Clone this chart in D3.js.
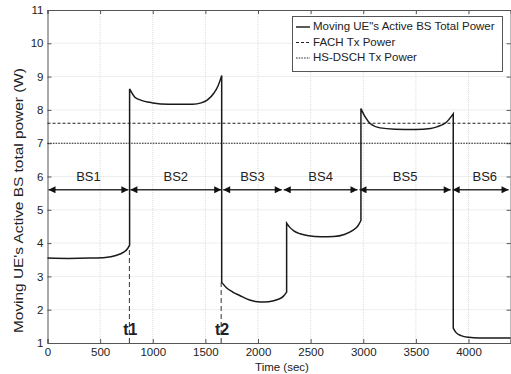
<!DOCTYPE html>
<html>
<head>
<meta charset="utf-8">
<script src="https://cdn.jsdelivr.net/npm/d3@7"></script>
<style>
  body { margin: 0; background: #fff; }
  text { font-family: "Liberation Sans", Arial, sans-serif; fill: #222; }
</style>
</head>
<body>
<script>
// power of the active BS seen by the moving UE, one array per serving BS
var bs1 = [[0,3.55],[200,3.54],[400,3.55],[550,3.57],[650,3.63],[720,3.72],[760,3.83],[780,3.94]];
var bs2 = [[780,8.63],[830,8.38],[880,8.3],[1000,8.21],[1150,8.17],[1380,8.17],[1460,8.21],[1520,8.3],[1580,8.5],[1620,8.72],[1655,9.03]];
var bs3 = [[1655,2.82],[1700,2.66],[1760,2.53],[1830,2.42],[1920,2.29],[2020,2.23],[2100,2.24],[2180,2.3],[2240,2.4],[2272,2.53]];
var bs4 = [[2272,4.6],[2300,4.48],[2340,4.37],[2400,4.28],[2480,4.22],[2600,4.19],[2720,4.2],[2820,4.26],[2900,4.38],[2950,4.52],[2978,4.68]];
var bs5 = [[2978,8.04],[3020,7.78],[3065,7.59],[3160,7.46],[3300,7.42],[3500,7.41],[3640,7.44],[3700,7.49],[3790,7.63],[3855,7.88]];
var bs6 = [[3855,1.45],[3880,1.32],[3930,1.22],[4000,1.17],[4100,1.15],[4400,1.15]];
var segments = [bs1, bs2, bs3, bs4, bs5, bs6];

var fachPower = 7.6;
var hsdschPower = 7.0;

var bsNames = ["BS1", "BS2", "BS3", "BS4", "BS5", "BS6"];
var bsBounds = [0, 778, 1660, 2235, 2955, 3840, 4390];
var arrowLevel = 5.6;

var handovers = [{name: "t1", t: 778, p: 3.9}, {name: "t2", t: 1650, p: 2.82}];

var xTicks = [0, 500, 1000, 1500, 2000, 2500, 3000, 3500, 4000];
var yTicks = [1, 2, 3, 4, 5, 6, 7, 8, 9, 10, 11];

var W = 511, H = 374;
var svg = d3.select("body").append("svg").attr("width", W).attr("height", H);

var x = d3.scaleLinear().domain([0, 4400]).range([47.5, 510.6]);
var y = d3.scaleLinear().domain([1, 11]).range([343, 10]);

// grid
svg.append("g").selectAll("line").data(xTicks.slice(1)).enter().append("line")
  .attr("x1", d => x(d)).attr("x2", d => x(d)).attr("y1", y(1)).attr("y2", y(11))
  .attr("stroke", "#dcdcdc").attr("stroke-width", 1).attr("stroke-dasharray", "1,1");
svg.append("g").selectAll("line").data(yTicks.slice(1, -1)).enter().append("line")
  .attr("x1", x(0)).attr("x2", x(4400)).attr("y1", d => y(d)).attr("y2", d => y(d))
  .attr("stroke", "#dcdcdc").attr("stroke-width", 1).attr("stroke-dasharray", "1,1");

// axes (ticks inside)
var xAxis = svg.append("g").attr("transform", "translate(0," + y(1) + ")")
  .call(d3.axisBottom(x).tickValues(xTicks).tickSize(-4).tickPadding(6).tickFormat(d3.format("d")));
var xTop = svg.append("g").attr("transform", "translate(0," + y(11) + ")")
  .call(d3.axisTop(x).tickValues(xTicks).tickSize(-4).tickFormat(""));
var yAxis = svg.append("g").attr("transform", "translate(" + x(0) + ",0)")
  .call(d3.axisLeft(y).tickValues(yTicks).tickSize(-4).tickPadding(4));
var yRight = svg.append("g").attr("transform", "translate(" + x(4400) + ",0)")
  .call(d3.axisRight(y).tickValues(yTicks).tickSize(-4).tickFormat(""));
[xAxis, xTop, yAxis, yRight].forEach(function(g) {
  g.select(".domain").attr("stroke", "#555");
  g.selectAll(".tick line").attr("stroke", "#555");
  g.selectAll("text").attr("font-size", 11.5).attr("fill", "#222")
    .style("font-family", "Liberation Sans, Arial, sans-serif");
});
xAxis.selectAll(".tick text").attr("dy", "0.6em");

// FACH and HS-DSCH levels
svg.append("line").attr("x1", x(0)).attr("x2", x(4400)).attr("y1", y(fachPower)).attr("y2", y(fachPower))
  .attr("stroke", "#222").attr("stroke-width", 1.1).attr("stroke-dasharray", "3,2");
svg.append("line").attr("x1", x(0)).attr("x2", x(4400)).attr("y1", y(hsdschPower)).attr("y2", y(hsdschPower))
  .attr("stroke", "#222").attr("stroke-width", 1.1).attr("stroke-dasharray", "1.5,1.2");

// handover markers
svg.selectAll(".ho").data(handovers).enter().append("line")
  .attr("x1", d => x(d.t)).attr("x2", d => x(d.t)).attr("y1", y(1)).attr("y2", d => y(d.p))
  .attr("stroke", "#333").attr("stroke-width", 1).attr("stroke-dasharray", "5,3");
svg.selectAll(".hol").data(handovers).enter().append("text")
  .attr("x", d => x(d.t) + 1).attr("y", y(1.37))
  .attr("text-anchor", "middle").attr("dominant-baseline", "middle")
  .attr("font-size", 16).attr("font-weight", "bold").text(d => d.name);

// BS coverage arrows
var defs = svg.append("defs");
defs.append("marker").attr("id", "ah").attr("viewBox", "0 0 10 10").attr("refX", 10).attr("refY", 5)
  .attr("markerWidth", 8).attr("markerHeight", 7).attr("markerUnits", "userSpaceOnUse")
  .attr("orient", "auto-start-reverse")
  .append("path").attr("d", "M0,0L10,5L0,10Z").attr("fill", "#111");

var spans = bsNames.map((n, i) => ({name: n, a: bsBounds[i], b: bsBounds[i + 1]}));
svg.selectAll(".arr").data(spans).enter().append("line")
  .attr("x1", d => x(d.a) + 1).attr("x2", d => x(d.b) - 1)
  .attr("y1", y(arrowLevel)).attr("y2", y(arrowLevel))
  .attr("stroke", "#333").attr("stroke-width", 1.6)
  .attr("marker-start", "url(#ah)").attr("marker-end", "url(#ah)");
// last label sits further right: the span runs past the visible axis
svg.selectAll(".bsl").data(spans).enter().append("text")
  .attr("x", (d, i) => x((d.a + (i === spans.length - 1 ? 4470 : d.b)) / 2)).attr("y", y(5.98))
  .attr("text-anchor", "middle").attr("dominant-baseline", "middle")
  .attr("font-size", 13).attr("fill", "#222").text(d => d.name);

// total power curve: segments joined by vertical jumps
var line = d3.line().x(d => x(d[0])).y(d => y(d[1])).curve(d3.curveMonotoneX);
var pathD = segments.map((s, i) => { var p = line(s); return i ? "L" + p.slice(1) : p; }).join("");
svg.append("path").attr("d", pathD).attr("fill", "none").attr("stroke", "#1a1a1a").attr("stroke-width", 1.5);

// legend
var lg = svg.append("g");
lg.append("rect").attr("x", 292.5).attr("y", 16.5).attr("width", 210).attr("height", 55)
  .attr("fill", "#fff").attr("stroke", "#555");
var legendItems = [
  {label: "Moving UE\"s Active BS Total Power", dash: null},
  {label: "FACH Tx Power", dash: "3,2"},
  {label: "HS-DSCH Tx Power", dash: "1.5,1.2"}
];
legendItems.forEach(function(d, i) {
  var yy = 27 + i * 15.5;
  lg.append("line").attr("x1", 296).attr("x2", 310).attr("y1", yy).attr("y2", yy)
    .attr("stroke", "#222").attr("stroke-width", d.dash ? 1.1 : 1.5).attr("stroke-dasharray", d.dash);
  lg.append("text").attr("x", 313).attr("y", yy).attr("dominant-baseline", "middle")
    .attr("font-size", 11.5).text(d.label);
});

// axis titles
svg.append("text").attr("x", 282).attr("y", 368).attr("text-anchor", "middle")
  .attr("dominant-baseline", "middle").attr("font-size", 11.5).text("Time (sec)");
svg.append("text").attr("transform", "translate(20,200.5) rotate(-90)")
  .attr("text-anchor", "middle").attr("dominant-baseline", "middle")
  .attr("font-size", 12).attr("textLength", 265).attr("lengthAdjust", "spacingAndGlyphs")
  .text("Moving UE's Active BS total power (W)");
</script>
</body>
</html>
